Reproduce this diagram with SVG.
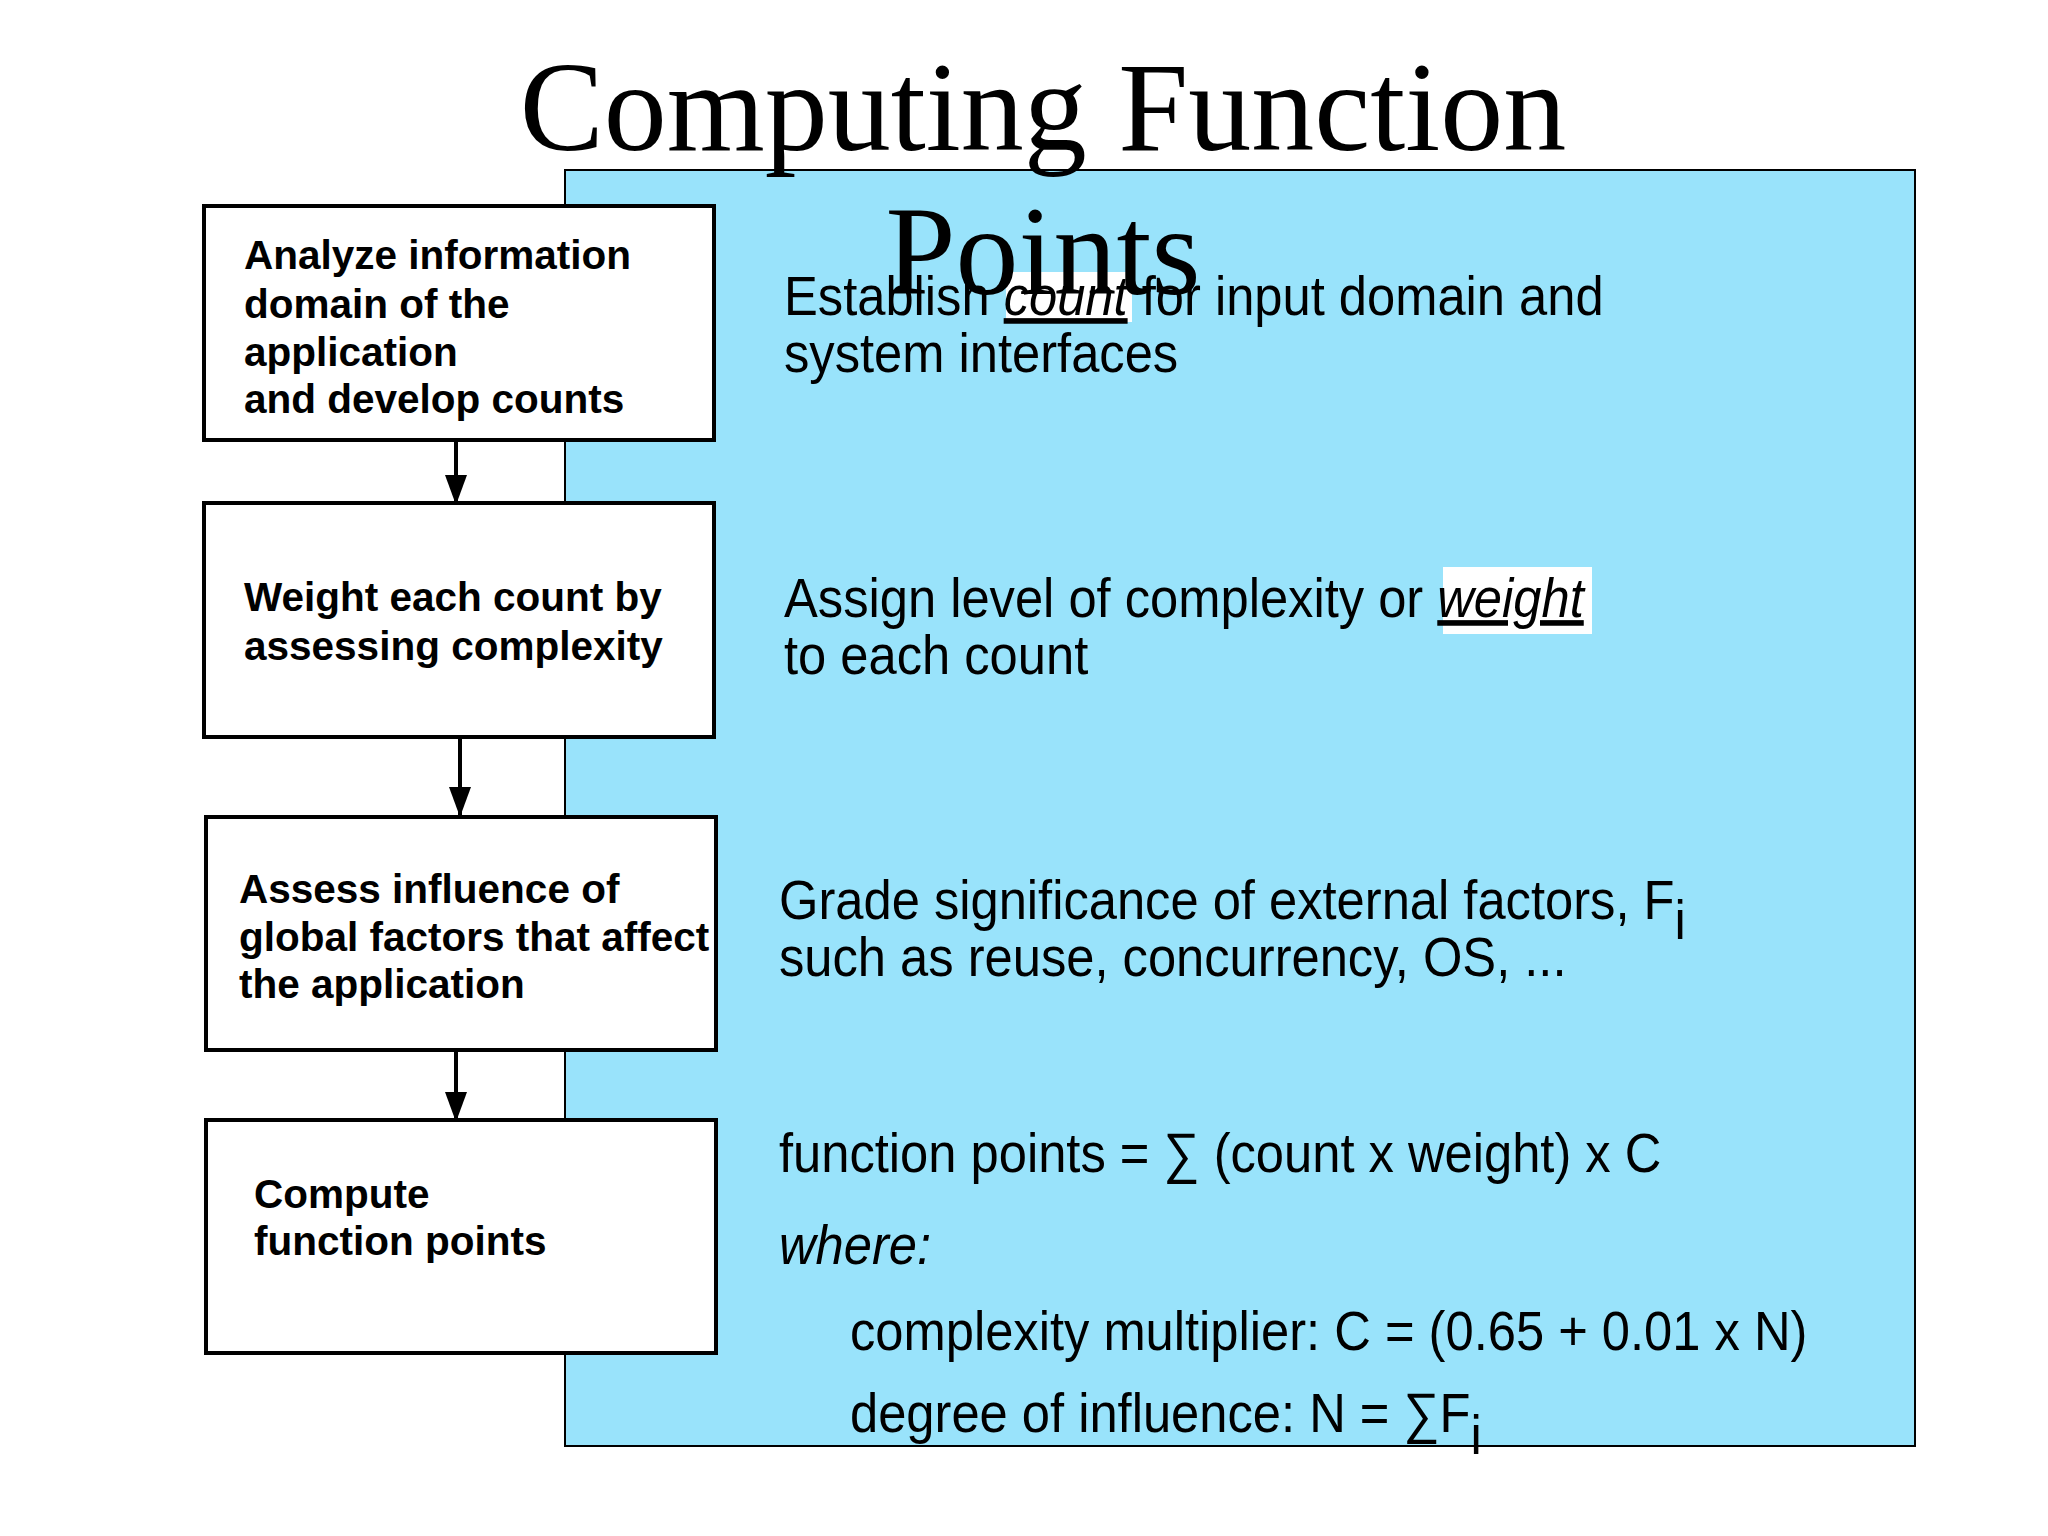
<svg xmlns="http://www.w3.org/2000/svg" width="2048" height="1536" viewBox="0 0 2048 1536">
<style>
.box{fill:#fff;stroke:#000;stroke-width:4}
.bt{font-family:"Liberation Sans",Arial,sans-serif;font-weight:bold;font-size:40.5px;fill:#000}
.rt{font-family:"Liberation Sans",Arial,sans-serif;font-size:56px;fill:#000}
.ar{stroke:#000;stroke-width:4;fill:none}
</style>
<defs><marker id="ah" markerWidth="30" markerHeight="22" refX="30" refY="11" orient="auto" markerUnits="userSpaceOnUse" viewBox="0 0 30 22"><path d="M0,0 L30,11 L0,22z" fill="#000"/></marker></defs>
<rect width="2048" height="1536" fill="#fff"/>
<rect x="565" y="170" width="1350" height="1276" fill="#99e3fb" stroke="#000" stroke-width="2"/>
<g id="n1"><rect class="box" x="204" y="206" width="510" height="234"/>
<text class="bt" x="244" y="269">Analyze information</text><text class="bt" x="244" y="318">domain of the</text><text class="bt" x="244" y="366">application</text><text class="bt" x="244" y="413">and develop counts</text></g>
<g id="n2"><rect class="box" x="204" y="503" width="510" height="234"/>
<text class="bt" x="244" y="611">Weight each count by</text><text class="bt" x="244" y="660">assessing complexity</text></g>
<g id="n3"><rect class="box" x="206" y="817" width="510" height="233"/>
<text class="bt" x="239" y="903">Assess influence of</text><text class="bt" x="239" y="951">global factors that affect</text><text class="bt" x="239" y="998">the application</text></g>
<g id="n4"><rect class="box" x="206" y="1120" width="510" height="233"/>
<text class="bt" x="254" y="1208">Compute</text><text class="bt" x="254" y="1255">function points</text></g>
<g id="connectors">
<line class="ar" x1="456" y1="440" x2="456" y2="505" marker-end="url(#ah)"/>
<line class="ar" x1="460" y1="737" x2="460" y2="817" marker-end="url(#ah)"/>
<line class="ar" x1="456" y1="1050" x2="456" y2="1122" marker-end="url(#ah)"/>
</g>
<g id="texts">
<rect x="1006" y="272" width="126" height="50" fill="#fff"/>
<rect x="1443" y="567" width="149" height="67" fill="#fff"/>
<g transform="translate(784,0) scale(0.905,1)">
<text class="rt" x="0" y="315">Establish <tspan font-style="italic" text-decoration="underline">count</tspan> for input domain and</text>
<text class="rt" x="0" y="372">system interfaces</text>
<text class="rt" x="0" y="617">Assign level of complexity or <tspan font-style="italic" text-decoration="underline">weight</tspan></text>
<text class="rt" x="0" y="674">to each count</text>
</g>
<g transform="translate(779,0) scale(0.905,1)">
<text class="rt" x="0" y="919">Grade significance of external factors, F<tspan dy="20">i</tspan></text>
<text class="rt" x="0" y="976">such as reuse, concurrency, OS, ...</text>
<text class="rt" x="0" y="1172">function points = ∑ (count x weight) x C</text>
<text class="rt" x="0" y="1264" font-style="italic">where:</text>
</g>
<g transform="translate(850,0) scale(0.905,1)">
<text class="rt" x="0" y="1350">complexity multiplier:  C = (0.65 + 0.01 x N)</text>
<text class="rt" x="0" y="1432">degree of influence:  N = ∑F<tspan dy="22">i</tspan></text>
</g>
</g>
<text x="1043" y="150" text-anchor="middle" font-family="Liberation Serif,'Times New Roman',serif" font-size="126">Computing Function</text>
<text x="1043" y="294" text-anchor="middle" font-family="Liberation Serif,'Times New Roman',serif" font-size="126">Points</text>
</svg>
